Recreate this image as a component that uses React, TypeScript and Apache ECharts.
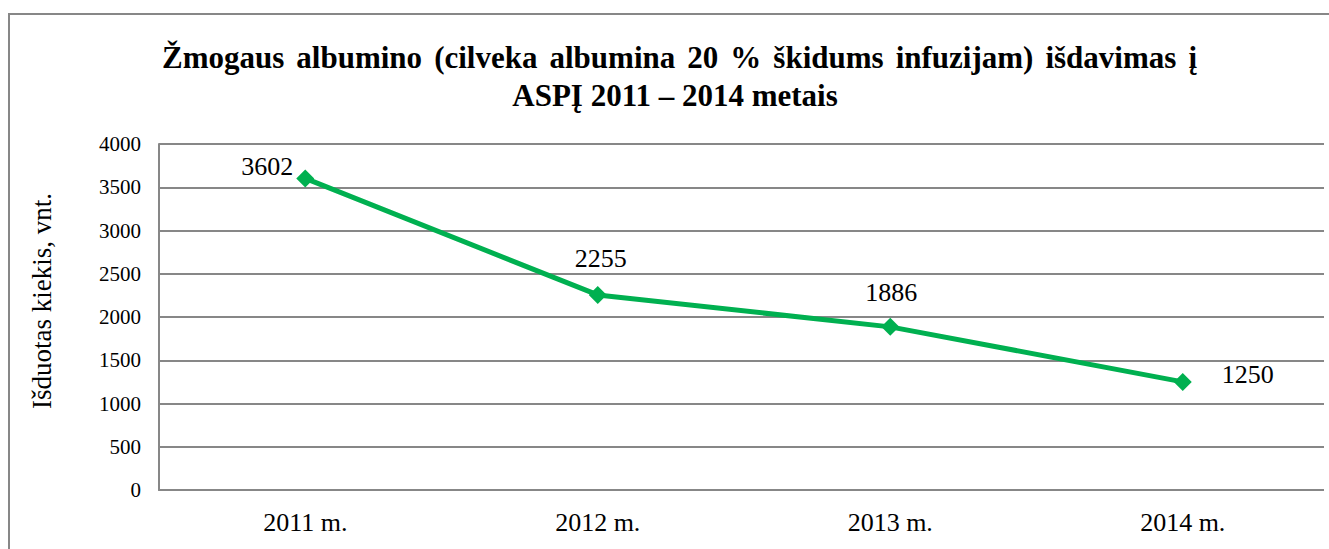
import React, { useEffect, useRef } from "react";
import * as echarts from "echarts";

const categories = ["2011 m.", "2012 m.", "2013 m.", "2014 m."];
const values = [3602, 2255, 1886, 1250];
const titleLine1 = "Žmogaus albumino (cilveka albumina 20 % škidums infuzijam) išdavimas į";
const titleLine2 = "ASPĮ 2011 – 2014 metais";
const yAxisName = "Išduotas kiekis, vnt.";

const labelPlacement = [
  { position: "left", distance: 3, offset: [0, -12] },
  { position: "top", distance: 14, offset: [3, 0] },
  { position: "top", distance: 12, offset: [1, 0] },
  { position: "right", distance: 30, offset: [0, -7] },
];

const FONT = "'Liberation Serif', 'Times New Roman', serif";
const GRAY = "#878787";
const TITLE_FONT = `bold 31px ${FONT}`;

function justifiedLine(text: string, x0: number, x1: number, y: number) {
  const ctx = document.createElement("canvas").getContext("2d")!;
  ctx.font = TITLE_FONT;
  const words = text.split(" ");
  const widths = words.map((w) => ctx.measureText(w).width);
  const total = widths.reduce((a, b) => a + b, 0);
  const gap = (x1 - x0 - total) / (words.length - 1);
  let x = x0;
  return words.map((w, i) => {
    const el = {
      type: "text",
      x,
      y,
      style: {
        text: w,
        font: TITLE_FONT,
        fill: "#000",
        align: "left",
        verticalAlign: "middle",
      },
    };
    x += widths[i] + gap;
    return el;
  });
}

export default function App() {
  const ref = useRef<HTMLDivElement>(null);
  useEffect(() => {
    document.body.style.overflow = "hidden";
    if (!ref.current) return;
    const chart = echarts.init(ref.current, null, { renderer: "svg" });
    chart.setOption({
      animation: false,
      backgroundColor: "#ffffff",
      grid: { left: 159, top: 144, bottom: 59, right: -12, containLabel: false },
      graphic: [
        {
          type: "rect",
          z: 1,
          shape: { x: 1324, y: 16, width: 30, height: 540 },
          style: { fill: "#ffffff" },
          silent: true,
        },
        {
          type: "line",
          shape: { x1: 9, y1: 14, x2: 9, y2: 560 },
          style: { stroke: GRAY, lineWidth: 2 },
          silent: true,
        },
        {
          type: "line",
          z: 2,
          shape: { x1: 8, y1: 14, x2: 1340, y2: 14 },
          style: { stroke: GRAY, lineWidth: 2 },
          silent: true,
        },
        ...justifiedLine(titleLine1, 162, 1197, 57),
        {
          type: "text",
          x: 675,
          y: 95,
          style: {
            text: titleLine2,
            font: TITLE_FONT,
            fill: "#000",
            align: "center",
            verticalAlign: "middle",
          },
        },
        {
          type: "text",
          x: 42,
          y: 301,
          rotation: Math.PI / 2,
          style: {
            text: yAxisName,
            font: `27px ${FONT}`,
            fill: "#000",
            align: "center",
            verticalAlign: "middle",
          },
        },
      ],
      xAxis: {
        type: "category",
        data: categories,
        boundaryGap: true,
        axisLine: { show: true, lineStyle: { color: GRAY, width: 2 } },
        axisTick: { show: false },
        splitLine: { show: false },
        axisLabel: { color: "#000", fontFamily: FONT, fontSize: 26, margin: 19 },
      },
      yAxis: {
        type: "value",
        min: 0,
        max: 4000,
        interval: 500,
        axisLine: { show: true, lineStyle: { color: GRAY, width: 2 } },
        axisTick: { show: false },
        splitLine: { show: true, lineStyle: { color: GRAY, width: 2 } },
        axisLabel: {
          color: "#000",
          fontFamily: FONT,
          fontSize: 21,
          margin: 18,
          formatter: (v: number) => String(v),
        },
      },
      series: [
        {
          type: "line",
          data: values.map((v, i) => ({
            value: v,
            label: {
              show: true,
              position: labelPlacement[i].position,
              distance: labelPlacement[i].distance,
              offset: labelPlacement[i].offset,
            },
          })),
          lineStyle: { color: "#00B050", width: 5 },
          itemStyle: { color: "#00B050" },
          symbol: "diamond",
          symbolSize: 18,
          label: { color: "#000", fontFamily: FONT, fontSize: 26 },
        },
      ],
    });
    return () => chart.dispose();
  }, []);
  return (
    <div
      ref={ref}
      style={{ position: "absolute", left: 0, top: 0, width: 1329, height: 549 }}
    />
  );
}
